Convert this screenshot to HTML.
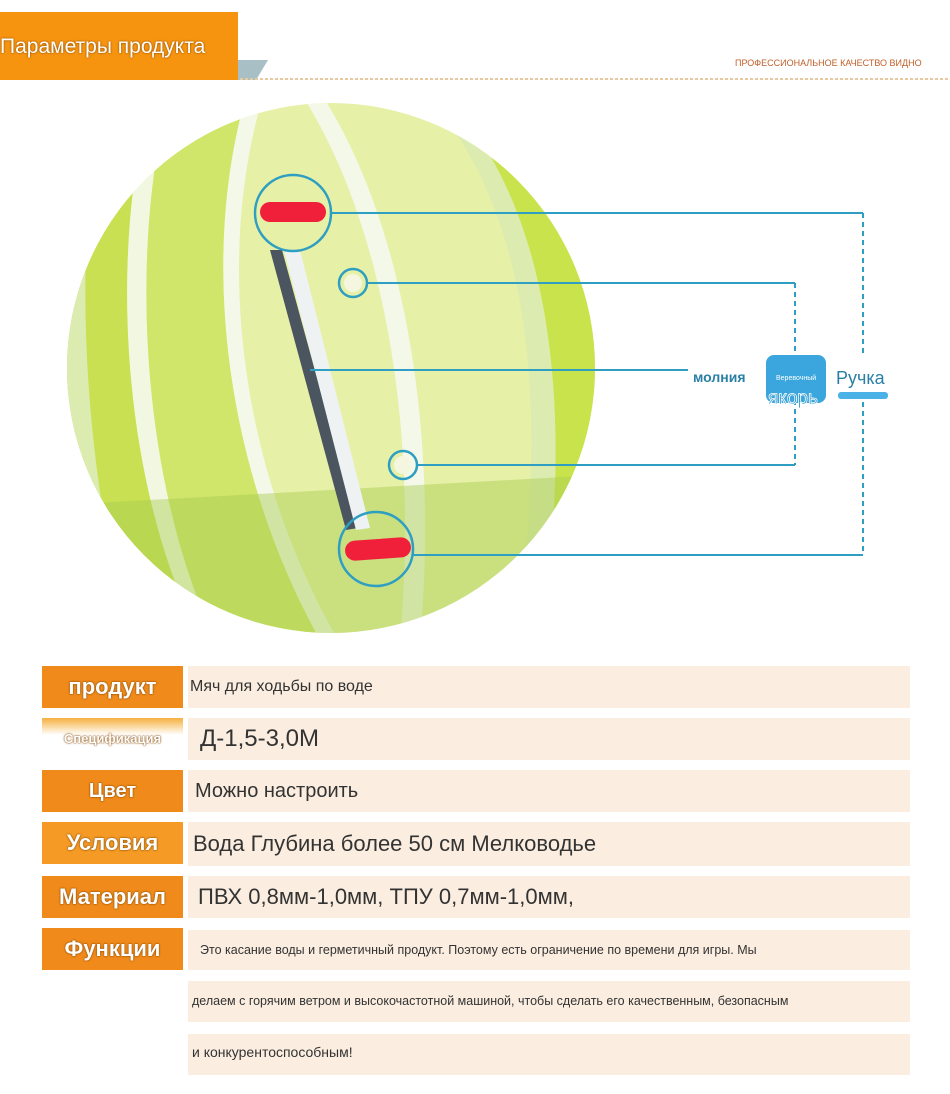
<!DOCTYPE html>
<html><head><meta charset="utf-8"><style>
*{box-sizing:border-box}
body{margin:0;width:950px;height:1094px;background:#fff;position:relative;overflow:hidden;font-family:"Liberation Sans","DejaVu Sans",sans-serif}
.abs{position:absolute}
.lab{position:absolute;left:42px;width:141px;height:42px;background:#f08a1a;color:#fff;font-weight:bold;text-align:center;line-height:42px;text-shadow:0 0 2px #8a4a00,0 0 1px #8a4a00}
.val{position:absolute;left:188px;width:722px;height:42px;background:#fbeee0;color:#333;line-height:42px;white-space:nowrap}
</style></head><body>
<div class="abs" style="left:0;top:12px;width:238px;height:68px;background:#f7940f"></div>
<div class="abs" style="left:0;top:35px;color:#fff;font-size:21px;text-shadow:0 0 2px #7a4000">Параметры продукта</div>
<svg class="abs" style="left:0;top:0" width="950" height="100"><polygon points="238,60 268,60 256,80 238,80" fill="#a9bfc6"/><line x1="240" y1="79" x2="950" y2="79" stroke="#e8c9a0" stroke-width="2" stroke-dasharray="3,2"/></svg>
<div class="abs" style="left:735px;top:58px;font-size:9px;color:#c0602a">ПРОФЕССИОНАЛЬНОЕ КАЧЕСТВО ВИДНО</div>

<svg class="abs" style="left:0;top:0" width="950" height="650">
<defs><clipPath id="b"><ellipse cx="331" cy="368" rx="264" ry="265"/></clipPath></defs>
<ellipse cx="331" cy="368" rx="264" ry="265" fill="#e6f0a6"/>
<g clip-path="url(#b)">
<path d="M60,100 L150,100 C110,250 120,480 200,640 L60,640 Z" fill="#c8e052"/>
<path d="M60,100 L100,100 C75,250 80,450 130,640 L60,640 Z" fill="#dcebb0"/>
<path d="M150,100 C110,250 120,480 200,640 L215,640 C140,480 130,250 168,100 Z" fill="#f2f7e2"/>
<path d="M168,100 L245,100 C200,260 225,470 320,640 L215,640 C140,480 130,250 168,100 Z" fill="#d0e66a"/>
<path d="M245,100 L262,100 C215,260 240,470 338,640 L320,640 C225,470 200,260 245,100 Z" fill="#f4f8e8"/>
<path d="M305,100 L325,100 C400,220 440,420 420,640 L400,640 C420,420 380,220 305,100 Z" fill="#f4f8e8"/>
<path d="M450,100 C540,200 580,380 540,640 L600,640 L600,100 Z" fill="#c9e34d"/>
<path d="M430,100 C520,200 555,380 515,640 L540,640 C580,380 540,200 450,100 Z" fill="#dcebb0"/>
<path d="M60,505 L600,475 L600,650 L60,650 Z" fill="#a8cc50" opacity="0.45"/>
</g>
<polygon points="270,250 282,250 358,528 346,530" fill="#4a5560"/>
<polygon points="284,250 300,250 370,528 356,530" fill="#eef2f2"/>
<rect x="260" y="202" width="66" height="20" rx="10" fill="#f0203a"/>
<rect x="345" y="539" width="66" height="20" rx="10" fill="#f0203a" transform="rotate(-4 378 549)"/>
<g fill="none" stroke="#2e9ec2" stroke-width="2.5">
<circle cx="293" cy="213" r="38"/><circle cx="376" cy="549" r="37"/>
<circle cx="353" cy="283" r="14"/><circle cx="403" cy="465" r="14"/>
</g>
<circle cx="353" cy="283" r="9" fill="#f4f6e0"/><circle cx="403" cy="465" r="9" fill="#f4f6e0"/>
<g stroke="#2e9ec2" stroke-width="2">
<line x1="331" y1="213" x2="863" y2="213"/><line x1="413" y1="555" x2="863" y2="555"/>
<line x1="367" y1="283" x2="795" y2="283"/><line x1="417" y1="465" x2="795" y2="465"/>
<line x1="310" y1="370" x2="690" y2="370"/>
<line x1="863" y1="213" x2="863" y2="555" stroke-dasharray="5,4"/>
<line x1="795" y1="283" x2="795" y2="465" stroke-dasharray="5,4"/>
</g>
<rect x="688" y="357" width="65" height="36" rx="8" fill="#fff"/>
<text x="693" y="382" font-size="14" fill="#2a7fa5" font-weight="bold" font-family="Liberation Sans,sans-serif">молния</text>
<rect x="766" y="355" width="60" height="48" rx="8" fill="#3aa6dd"/>
<text x="776" y="380" font-size="7" fill="#fff" font-family="Liberation Sans,sans-serif">Веревочный</text>
<text x="768" y="404" font-size="19" fill="#1f8fc8" stroke="#fff" stroke-width="0.8" font-family="Liberation Sans,sans-serif">якорь</text>
<rect x="833" y="357" width="58" height="40" fill="#fff"/>
<text x="836" y="384" font-size="18" fill="#2a7fa5" font-family="Liberation Sans,sans-serif">Ручка</text>
<rect x="838" y="392" width="50" height="7" rx="3" fill="#4bb2e8"/>
</svg>

<div class="lab" style="top:666px;font-size:22px">продукт</div>
<div class="val" style="top:666px;font-size:16px;padding-left:2px">Мяч для ходьбы по воде</div>
<div class="lab" style="top:718px;font-size:13px;background:linear-gradient(#f5b040,#fff 40%)">Спецификация</div>
<div class="val" style="top:718px;font-size:24px;padding-left:12px">Д-1,5-3,0М</div>
<div class="lab" style="top:770px;font-size:20px">Цвет</div>
<div class="val" style="top:770px;font-size:20px;padding-left:7px">Можно настроить</div>
<div class="lab" style="top:822px;font-size:22px;background:#f49a25">Условия</div>
<div class="val" style="top:822px;font-size:22px;padding-left:5px;height:44px;line-height:44px">Вода Глубина более 50 см Мелководье</div>
<div class="lab" style="top:876px;font-size:22px">Материал</div>
<div class="val" style="top:876px;font-size:22px;padding-left:10px">ПВХ 0,8мм-1,0мм, ТПУ 0,7мм-1,0мм,</div>
<div class="lab" style="top:928px;font-size:22px">Функции</div>
<div class="val" style="top:930px;height:40px;line-height:40px;font-size:12.5px;padding-left:12px">Это касание воды и герметичный продукт. Поэтому есть ограничение по времени для игры. Мы</div>
<div class="val" style="top:981px;height:41px;line-height:41px;font-size:12.5px;padding-left:4px">делаем с горячим ветром и высокочастотной машиной, чтобы сделать его качественным, безопасным</div>
<div class="val" style="top:1034px;height:41px;line-height:36px;font-size:14px;padding-left:4px">и конкурентоспособным!</div>
</body></html>
